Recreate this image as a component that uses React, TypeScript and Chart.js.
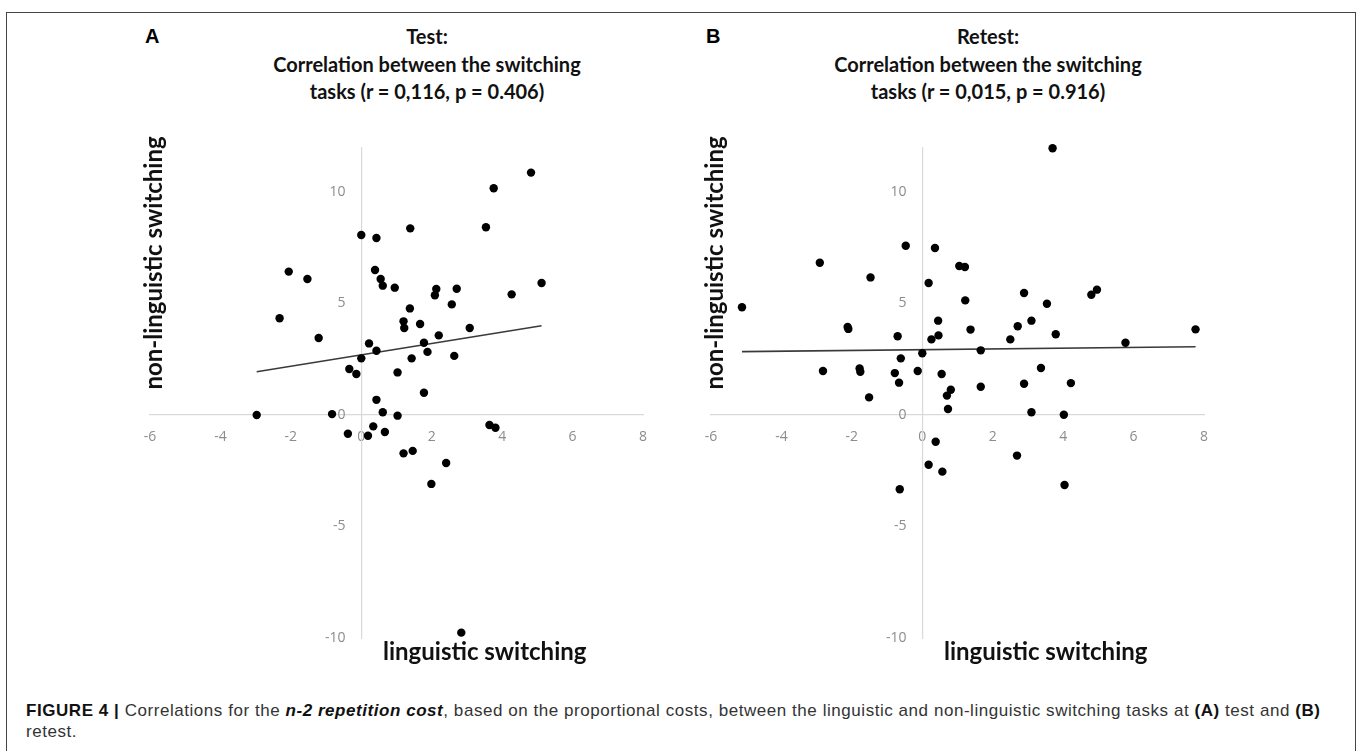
import React, { useEffect, useRef } from "react";
import { Chart, registerables } from "chart.js";

Chart.register(...registerables);

// ---------- data ----------
const xTickStep = 2;
const yTickStep = 5;
const xMin = -6;
const xMax = 8;
const yMin = -10;
const yMax = 12;

const testX = [4.82, 3.76, 0.0, 0.43, 1.39, 3.54, -2.06, -1.53, 0.39, 0.55, 0.61, 0.95, 2.13, 2.09, 2.71, 2.57, 4.27, 5.12, 1.38, -2.32, 1.2, 1.22, 1.67, 3.08, -1.21, 2.2, 0.22, 1.78, 0.43, 1.88, 2.64, 0.0, 1.43, -0.34, -0.14, 1.03, 1.78, 0.43, -2.97, -0.83, 0.61, 1.03, -0.38, 0.34, 0.19, 0.67, 3.64, 3.81, 1.2, 1.46, 2.41, 1.99, 2.84];
const testY = [10.87, 10.17, 8.07, 7.94, 8.37, 8.42, 6.43, 6.1, 6.5, 6.1, 5.8, 5.71, 5.65, 5.37, 5.66, 4.96, 5.41, 5.92, 4.78, 4.34, 4.2, 3.9, 4.08, 3.9, 3.45, 3.57, 3.21, 3.24, 2.88, 2.83, 2.65, 2.54, 2.54, 2.06, 1.84, 1.91, 1.0, 0.68, 0.0, 0.04, 0.12, -0.03, -0.84, -0.51, -0.93, -0.76, -0.45, -0.57, -1.72, -1.61, -2.15, -3.09, -9.76];
const testTrendX = [-2.97, 5.12];
const testTrendY = [1.94, 4.0];

const retestX = [3.7, -0.47, 0.36, -2.91, 1.05, 1.21, -1.47, 0.18, -5.12, 2.89, 1.22, 3.54, 4.8, 4.96, -2.12, -2.1, 0.45, -0.7, 0.46, 0.26, 1.37, 2.71, 3.1, 2.5, 3.79, 5.77, 7.76, 1.66, 0.0, -0.61, -2.82, -1.78, -1.76, -0.78, -0.13, 0.55, 3.37, -0.66, 1.66, 2.89, 4.22, 0.81, 0.7, -1.51, 0.73, 3.1, 4.02, 0.38, 2.69, 0.18, 0.57, -0.64, 4.04];
const retestY = [11.96, 7.59, 7.49, 6.83, 6.68, 6.64, 6.17, 5.92, 4.83, 5.47, 5.14, 4.99, 5.39, 5.62, 3.95, 3.86, 4.23, 3.53, 3.57, 3.39, 3.83, 3.98, 4.23, 3.39, 3.62, 3.24, 3.84, 2.9, 2.77, 2.54, 1.97, 2.09, 1.94, 1.88, 1.97, 1.84, 2.11, 1.45, 1.27, 1.4, 1.43, 1.13, 0.87, 0.79, 0.27, 0.12, 0.01, -1.2, -1.82, -2.23, -2.54, -3.33, -3.14];
const retestTrendX = [-5.12, 7.76];
const retestTrendY = [2.84, 3.06];

const panelLetters = ["A", "B"];
const titleLines = [
  ["Test:", "Correlation between the switching", "tasks (r = 0,116, p = 0.406)"],
  ["Retest:", "Correlation between the switching", "tasks (r = 0,015, p = 0.916)"],
];
const xAxisTitle = "linguistic switching";
const yAxisTitle = "non-linguistic switching";

// ---------- styles ----------
const TICK_COLOR = "#8c8c8c";
const AXIS_COLOR = "#d9d9d9";
const TICK_FONT = { family: '"Open Sans", sans-serif', size: 14 };
const TITLE_FONT = 'Lato, "Open Sans", sans-serif';

type PanelProps = { xs: number[]; ys: number[]; tx: number[]; ty: number[]; left: number };

function ScatterPanel({ xs, ys, tx, ty, left }: PanelProps) {
  const ref = useRef<HTMLCanvasElement | null>(null);
  useEffect(() => {
    if (!ref.current) return;
    const pts = xs.map((x, i) => ({ x, y: ys[i] }));
    const trend = tx.map((x, i) => ({ x, y: ty[i] }));
    const chart = new Chart(ref.current, {
      type: "scatter",
      data: {
        datasets: [
          {
            data: pts,
            backgroundColor: "#000",
            borderWidth: 0,
            pointRadius: 4.2,
            pointHoverRadius: 4.2,
            clip: false,
            xAxisID: "x",
            yAxisID: "y",
          },
          {
            data: trend,
            showLine: true,
            borderColor: "#3a3a3a",
            borderWidth: 1.6,
            pointRadius: 0,
            pointHoverRadius: 0,
            fill: false,
            xAxisID: "x",
            yAxisID: "y",
          },
        ],
      },
      options: {
        responsive: false,
        animation: false,
        devicePixelRatio: 1,
        events: [],
        layout: { padding: { left: 50, right: 37, top: 27.4, bottom: 42 } },
        plugins: { legend: { display: false }, tooltip: { enabled: false }, title: { display: false } },
        scales: {
          x: {
            type: "linear",
            min: xMin,
            max: xMax,
            position: { y: 0 },
            grid: { display: false, drawTicks: false },
            border: { display: true, color: AXIS_COLOR, width: 1.2 },
            ticks: { stepSize: xTickStep, padding: 14, color: TICK_COLOR, font: TICK_FONT },
          },
          y: {
            type: "linear",
            min: yMin,
            max: yMax,
            position: { x: 0 },
            grid: { display: false, drawTicks: false },
            border: { display: true, color: AXIS_COLOR, width: 1.2 },
            ticks: { display: false },
          },
          yTickAxis: {
            type: "linear",
            axis: "y",
            min: yMin,
            max: yMax,
            position: { x: -0.45 },
            grid: { display: false, drawTicks: false },
            border: { display: false },
            ticks: { stepSize: yTickStep, includeBounds: false, color: TICK_COLOR, font: TICK_FONT },
          },
        },
      } as any,
    });
    return () => chart.destroy();
  }, []);
  return (
    <canvas
      ref={ref}
      width={580}
      height={560}
      style={{ position: "absolute", left, top: 120, width: 580, height: 560 }}
    />
  );
}

function PanelText({ idx, shift }: { idx: number; shift: number }) {
  return (
    <>
      <div
        style={{
          position: "absolute",
          left: 145 + shift,
          top: 25,
          font: 'bold 20px "Liberation Sans", Arial, sans-serif',
          color: "#000",
        }}
      >
        {panelLetters[idx]}
      </div>
      <div
        style={{
          position: "absolute",
          left: 427 + shift - 250,
          width: 500,
          top: 23,
          textAlign: "center",
          fontFamily: TITLE_FONT,
          fontWeight: 700,
          fontSize: 20,
          lineHeight: "27.5px",
          color: "#111",
        }}
      >
        {titleLines[idx].map((t, i) => (
          <div key={i}>{t}</div>
        ))}
      </div>
      <div
        style={{
          position: "absolute",
          left: 383 + shift,
          top: 636,
          fontFamily: TITLE_FONT,
          fontWeight: 700,
          fontSize: 24,
          color: "#111",
          whiteSpace: "nowrap",
        }}
      >
        {xAxisTitle}
      </div>
      <div
        style={{
          position: "absolute",
          left: 153.3 + shift - 200,
          top: 262.5 - 15,
          width: 400,
          height: 30,
          lineHeight: "30px",
          textAlign: "center",
          transform: "rotate(-90deg)",
          fontFamily: TITLE_FONT,
          fontWeight: 700,
          fontSize: 24,
          color: "#111",
          whiteSpace: "nowrap",
        }}
      >
        {yAxisTitle}
      </div>
    </>
  );
}

export default function App() {
  return (
    <div
      style={{
        position: "absolute",
        left: 0,
        top: 0,
        width: 1360,
        height: 751,
        overflow: "hidden",
        background: "#fff",
      }}
    >
      <div
        style={{
          position: "absolute",
          left: 6,
          top: 12,
          width: 1350,
          height: 800,
          border: "1.5px solid #444",
          boxSizing: "border-box",
        }}
      />
      <ScatterPanel xs={testX} ys={testY} tx={testTrendX} ty={testTrendY} left={100} />
      <ScatterPanel xs={retestX} ys={retestY} tx={retestTrendX} ty={retestTrendY} left={661} />
      <PanelText idx={0} shift={0} />
      <PanelText idx={1} shift={561} />
      <div
        style={{
          position: "absolute",
          left: 26,
          top: 700,
          font: '17px "Liberation Sans", Arial, sans-serif',
          lineHeight: "21px",
          color: "#333",
          letterSpacing: "0.55px",
          whiteSpace: "nowrap",
        }}
      >
        <b style={{ color: "#111" }}>FIGURE 4 |</b> Correlations for the{" "}
        <b style={{ color: "#111" }}>
          <i>n-2 repetition cost</i>
        </b>
        , based on the proportional costs, between the linguistic and non-linguistic switching tasks at{" "}
        <b style={{ color: "#111" }}>(A)</b> test and <b style={{ color: "#111" }}>(B)</b>
        <br />
        retest.
      </div>
    </div>
  );
}
